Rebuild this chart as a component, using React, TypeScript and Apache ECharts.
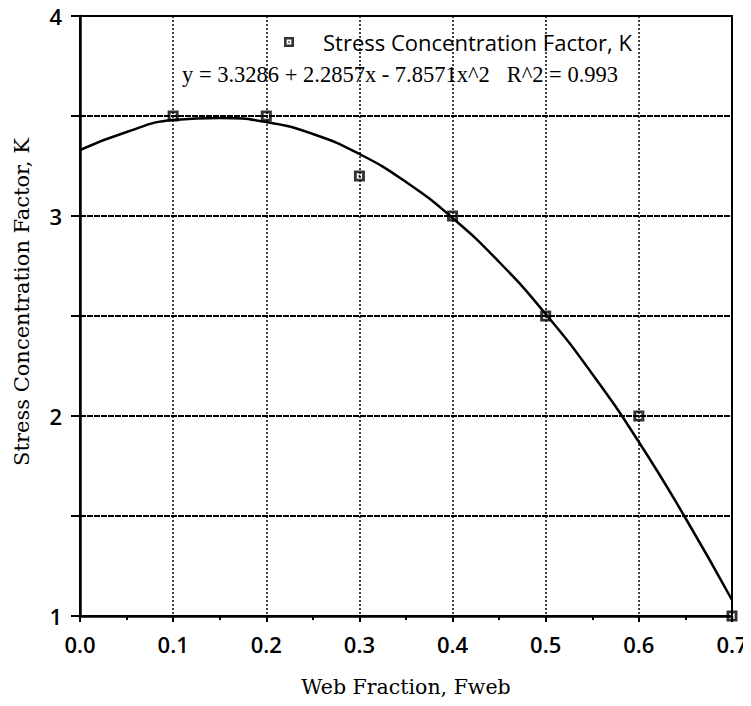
import React, { useEffect, useRef } from "react";
import * as echarts from "echarts";

const pointX = [0.1, 0.2, 0.3, 0.4, 0.5, 0.6, 0.7];
const pointK = [3.5, 3.5, 3.2, 3.0, 2.5, 2.0, 1.0];
const fitX = [0, 0.05, 0.1, 0.15, 0.2, 0.25, 0.3, 0.35, 0.4, 0.45, 0.5, 0.55, 0.6, 0.65, 0.7];
const fitK = [3.33, 3.42, 3.48, 3.49, 3.47, 3.41, 3.31, 3.17, 2.99, 2.77, 2.51, 2.21, 1.87, 1.49, 1.08];
const seriesName = "Stress Concentration Factor, K";
const equationText = "y = 3.3286 + 2.2857x - 7.8571x^2   R^2 = 0.993";
const xTitle = "Web Fraction, Fweb";
const yTitle = "Stress Concentration Factor, K";

const markerPath =
  "path://M0,0H10V10H0Z M2.6,2.6V7.4H7.4V2.6Z M4.2,4.2H5.8V5.8H4.2Z";

export default function App() {
  const ref = useRef<HTMLDivElement>(null);
  useEffect(() => {
    if (!ref.current) return;
    const chart = echarts.init(ref.current, undefined, { renderer: "svg" });
    chart.setOption({
      animation: false,
      backgroundColor: "#fff",
      grid: {
        left: 80,
        right: 19,
        top: 16,
        bottom: 90,
        show: true,
        borderColor: "#000",
        borderWidth: 2,
      },
      legend: {
        data: [{ name: seriesName, icon: markerPath }],
        left: 284,
        top: 31,
        itemWidth: 10,
        itemHeight: 10,
        padding: 0,
        textStyle: {
          fontFamily: "Open Sans",
          fontSize: 22,
          color: "#000",
          padding: [0, 0, 0, 24],
        },
      },
      graphic: [
        {
          type: "text",
          x: 182,
          y: 74,
          style: {
            text: equationText,
            font: '22.5px "Liberation Serif"',
            fill: "#000",
            verticalAlign: "middle",
          },
        },
        {
          type: "text",
          x: 22,
          y: 302,
          rotation: Math.PI / 2,
          style: {
            text: yTitle,
            font: '21px "DejaVu Serif"',
            fill: "#000",
            align: "center",
            verticalAlign: "middle",
          },
        },
      ],
      xAxis: {
        type: "value",
        min: 0,
        max: 0.7,
        interval: 0.1,
        name: xTitle,
        nameLocation: "middle",
        nameGap: 60,
        nameTextStyle: { fontFamily: "DejaVu Serif", fontSize: 20.5, color: "#000" },
        axisLine: { show: true, onZero: false, lineStyle: { color: "#000", width: 2.5 } },
        axisTick: { show: true, length: 6, lineStyle: { color: "#000", width: 2 } },
        minorTick: { show: true, splitNumber: 2, length: 4, lineStyle: { color: "#000", width: 2 } },
        axisLabel: {
          margin: 17,
          fontFamily: "Open Sans",
          fontWeight: 600,
          fontSize: 22,
          color: "#000",
          formatter: (v: number) => v.toFixed(1),
        },
        splitLine: { show: true, lineStyle: { color: "#000", width: 1.5, type: [2, 2] } },
      },
      yAxis: {
        type: "value",
        min: 1,
        max: 4,
        interval: 0.5,
        axisLine: { show: true, lineStyle: { color: "#000", width: 2.5 } },
        axisTick: { show: true, length: 9, lineStyle: { color: "#000", width: 2 } },
        axisLabel: {
          margin: 18,
          fontFamily: "Open Sans",
          fontWeight: 600,
          fontSize: 22,
          color: "#000",
          formatter: (v: number) => (Math.abs(v - Math.round(v)) < 1e-9 ? String(Math.round(v)) : ""),
        },
        splitLine: { show: true, lineStyle: { color: "#000", width: 2, type: [6, 1] } },
      },
      series: [
        {
          name: "fit",
          type: "line",
          data: fitX.map((x, i) => [x, fitK[i]]),
          smooth: true,
          showSymbol: false,
          symbol: "none",
          lineStyle: { color: "#000", width: 2.5 },
          z: 3,
        },
        {
          name: seriesName,
          type: "scatter",
          data: pointX.map((x, i) => [x, pointK[i]]),
          symbol: markerPath,
          symbolSize: 11,
          itemStyle: { color: "#000" },
          z: 4,
        },
      ],
    });
    return () => chart.dispose();
  }, []);
  return <div ref={ref} style={{ width: 751, height: 706, margin: -8 }} />;
}
